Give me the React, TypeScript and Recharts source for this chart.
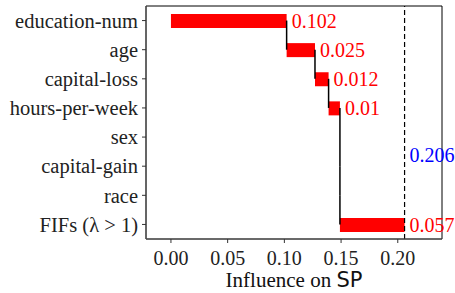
import {
  ComposedChart,
  Bar,
  XAxis,
  YAxis,
  ReferenceLine,
  ReferenceArea,
  LabelList,
} from "recharts";

const features = [
  "education-num",
  "age",
  "capital-loss",
  "hours-per-week",
  "sex",
  "capital-gain",
  "race",
  "FIFs (λ > 1)",
];
const influence = [0.102, 0.025, 0.012, 0.01, 0, 0, 0, 0.057];
const total = 0.206;
const xTicks = [0, 0.05, 0.1, 0.15, 0.2];
const xDomain = [-0.022, 0.239];

const SERIF = '"Liberation Serif", "Times New Roman", serif';

// running totals for the waterfall
let acc = 0;
const data = features.map((name, i) => {
  const base = acc;
  acc = +(acc + influence[i]).toFixed(3);
  return { name, base, delta: influence[i], end: acc };
});

// vertical connectors: end of one bar down to the next row
const connectors = data.slice(0, -1).map((d, i) => [
  { x: d.end, y: d.name },
  { x: d.end, y: data[i + 1].name },
]);

function ValueLabel(props: any) {
  const { x, y, width, height, value } = props;
  const color = value > 0 ? "#ff0000" : "#2ca02c";
  return (
    <text
      x={x + width + 5}
      y={y + height / 2}
      dy="0.35em"
      fill={color}
      fontFamily={SERIF}
      fontSize={20}
    >
      {String(value)}
    </text>
  );
}

function TotalLabel(props: any) {
  const { viewBox } = props;
  return (
    <text
      x={viewBox.x + 5}
      y={viewBox.y + viewBox.height * 0.64}
      dy="0.35em"
      fill="#0000ff"
      fontFamily={SERIF}
      fontSize={20}
    >
      {total.toFixed(3)}
    </text>
  );
}

function XLabel(props: any) {
  const { viewBox } = props;
  const cx = viewBox.x + viewBox.width / 2;
  return (
    <text
      x={cx}
      y={viewBox.y + 48}
      textAnchor="middle"
      fill="#111"
      fontSize={21}
    >
      <tspan fontFamily={SERIF}>Influence on </tspan>
      <tspan fontFamily='"DejaVu Sans", sans-serif'>SP</tspan>
    </text>
  );
}

export default function App() {
  return (
    <div style={{ position: "absolute", left: 0, top: 0 }}>
      <ComposedChart
        width={455}
        height={293}
        layout="vertical"
        data={data}
        margin={{ top: 6, right: 13, left: 0, bottom: 0 }}
        barSize={14}
      >
        <XAxis
          type="number"
          domain={xDomain}
          ticks={xTicks}
          tickFormatter={(v: number) => v.toFixed(2)}
          allowDataOverflow
          height={54}
          axisLine={{ stroke: "#555", strokeWidth: 1.2 }}
          tickLine={{ stroke: "#333" }}
          tickSize={4}
          tickMargin={8}
          tick={{ fill: "#222", fontFamily: SERIF, fontSize: 20 }}
          label={<XLabel />}
        />
        <YAxis
          type="category"
          dataKey="name"
          width={146}
          axisLine={{ stroke: "#555", strokeWidth: 1.2 }}
          tickLine={{ stroke: "#333" }}
          tickSize={4}
          tickMargin={4}
          tick={{ fill: "#222", fontFamily: SERIF, fontSize: 20.5 }}
          interval={0}
        />
        <ReferenceArea
          x1={xDomain[0]}
          x2={xDomain[1]}
          fill="none"
          stroke="#000"
          strokeWidth={1}
          ifOverflow="visible"
        />
        <Bar dataKey="base" stackId="w" fill="transparent" isAnimationActive={false} />
        <Bar dataKey="delta" stackId="w" fill="#ff0000" isAnimationActive={false}>
          <LabelList dataKey="delta" content={<ValueLabel />} />
        </Bar>
        {connectors.map((seg, i) => (
          <ReferenceLine
            key={i}
            segment={seg}
            stroke="#000"
            strokeWidth={1.5}
          />
        ))}
        <ReferenceLine
          x={total}
          stroke="#000"
          strokeWidth={1.2}
          strokeDasharray="5 3"
          label={<TotalLabel />}
        />
      </ComposedChart>
    </div>
  );
}
